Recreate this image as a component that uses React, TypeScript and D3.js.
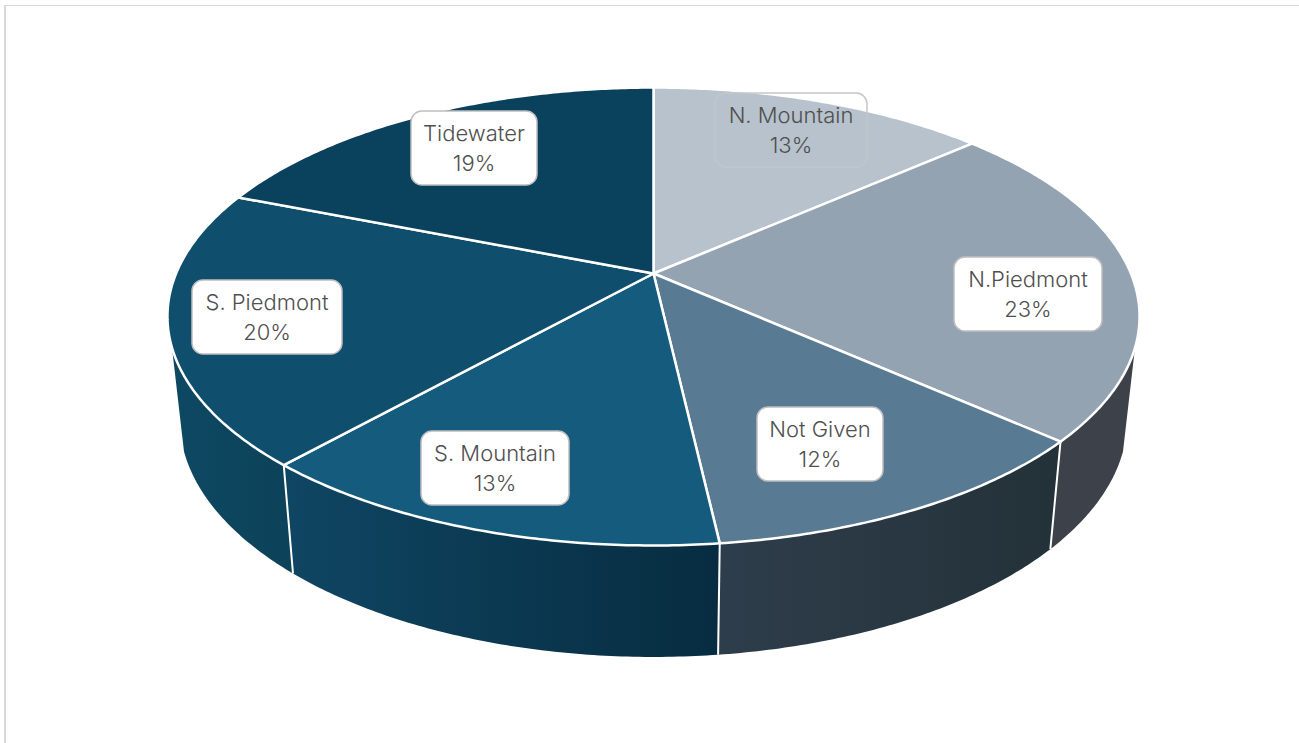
import React from "react";
import * as d3 from "d3";

const categories = ["N. Mountain", "N.Piedmont", "Not Given", "S. Mountain", "S. Piedmont", "Tidewater"];
const shares = [13.5, 23.1, 11.6, 13.4, 19.4, 19.0];
const percentLabels = ["13%", "23%", "12%", "13%", "20%", "19%"];

const topColors = ["#b7c2cc", "#94a3b2", "#587a93", "#155b7d", "#0f4f6d", "#0a415c"];
const wallColors = [
  ["#3d424a", "#3d424a"],
  ["#3d424a", "#3d424a"],
  ["#2e3d4b", "#233238"],
  ["#0f4663", "#072c40"],
  ["#0d4862", "#0c4259"],
  ["#0a415c", "#0a415c"],
];
// label box layout: centre x, centre y, width
const labelLayout = [
  [791, 130, 152],
  [1028, 294, 148],
  [820, 444, 126],
  [495, 468, 148],
  [267, 317, 150],
  [474, 148, 126],
];

const CX = 653.5, CY = 273.5, A = 220.9, B = 477.4, K = 0.1878;
const LOW_CY = 374.5, LOW_A = 229.4, LOW_B = B * 0.975;
const VIS_START = (108.4 * Math.PI) / 180, VIS_END = (251.6 * Math.PI) / 180;

const w = (t: number) => 1 + K * Math.cos(t);
const topPt = (t: number): [number, number] => [CX + (B * Math.sin(t)) / w(t), CY - (A * Math.cos(t)) / w(t)];
const lowPt = (t: number): [number, number] => [CX + (LOW_B * Math.sin(t)) / w(t), LOW_CY - (LOW_A * Math.cos(t)) / w(t)];
const samples = (a: number, b: number) => {
  const n = Math.max(2, Math.ceil((b - a) / 0.01));
  return d3.range(n + 1).map((i) => a + ((b - a) * i) / n);
};
const line = d3.line();

export default function App() {
  const arcs = d3.pie<number>().sort(null)(shares);
  return (
    <svg width={1299} height={743} style={{ position: "fixed", left: 0, top: 0, background: "#fff" }} fontFamily="Inter, 'Noto Sans', sans-serif">
      <defs>
        {wallColors.map((c, i) => (
          <linearGradient key={i} id={`wall${i}`} x1="0" x2="1" y1="0" y2="0">
            <stop offset="0" stopColor={c[0]} />
            <stop offset="1" stopColor={c[1]} />
          </linearGradient>
        ))}
      </defs>
      <rect x={4} y={5} width={1295} height={1} fill="#d9d9d9" />
      <rect x={4} y={5} width={2} height={738} fill="#d9d9d9" />
      {arcs.map((a, i) => {
        const s = Math.max(a.startAngle, VIS_START), e = Math.min(a.endAngle, VIS_END);
        if (e <= s) return null;
        const ts = samples(s, e);
        const d = line([...ts.map(topPt), ...ts.slice().reverse().map(lowPt)]) + "Z";
        return <path key={i} d={d} fill={`url(#wall${i})`} />;
      })}
      {arcs.map((a, i) => {
        const s = Math.max(a.startAngle, VIS_START), e = Math.min(a.endAngle, VIS_END);
        if (e <= s) return null;
        return (
          <g key={i} stroke="#fff" strokeWidth={2}>
            {a.endAngle <= VIS_END && <path d={line([topPt(a.endAngle), lowPt(a.endAngle)])!} />}
          </g>
        );
      })}
      {arcs.map((a, i) => {
        const d = line([[CX, CY], ...samples(a.startAngle, a.endAngle).map(topPt)]) + "Z";
        return <path key={i} d={d} fill={topColors[i]} stroke="#fff" strokeWidth={2.5} strokeLinejoin="round" />;
      })}
      {categories.map((c, i) => {
        const [x, y, width] = labelLayout[i];
        const height = 74;
        return (
          <g key={c}>
            <rect
              x={x - width / 2}
              y={y - height / 2}
              width={width}
              height={height}
              rx={11}
              fill={i === 0 ? "none" : "#fff"}
              stroke={i === 0 ? "#c3c6c9" : "#bfbfbf"}
              strokeWidth={1.5}
            />
            <text x={x} y={y - 7} textAnchor="middle" fontSize={22} fontWeight={300} fill="#4f4f4f">{c}</text>
            <text x={x} y={y + 23} textAnchor="middle" fontSize={22} fontWeight={300} fill="#4f4f4f">{percentLabels[i]}</text>
          </g>
        );
      })}
    </svg>
  );
}
